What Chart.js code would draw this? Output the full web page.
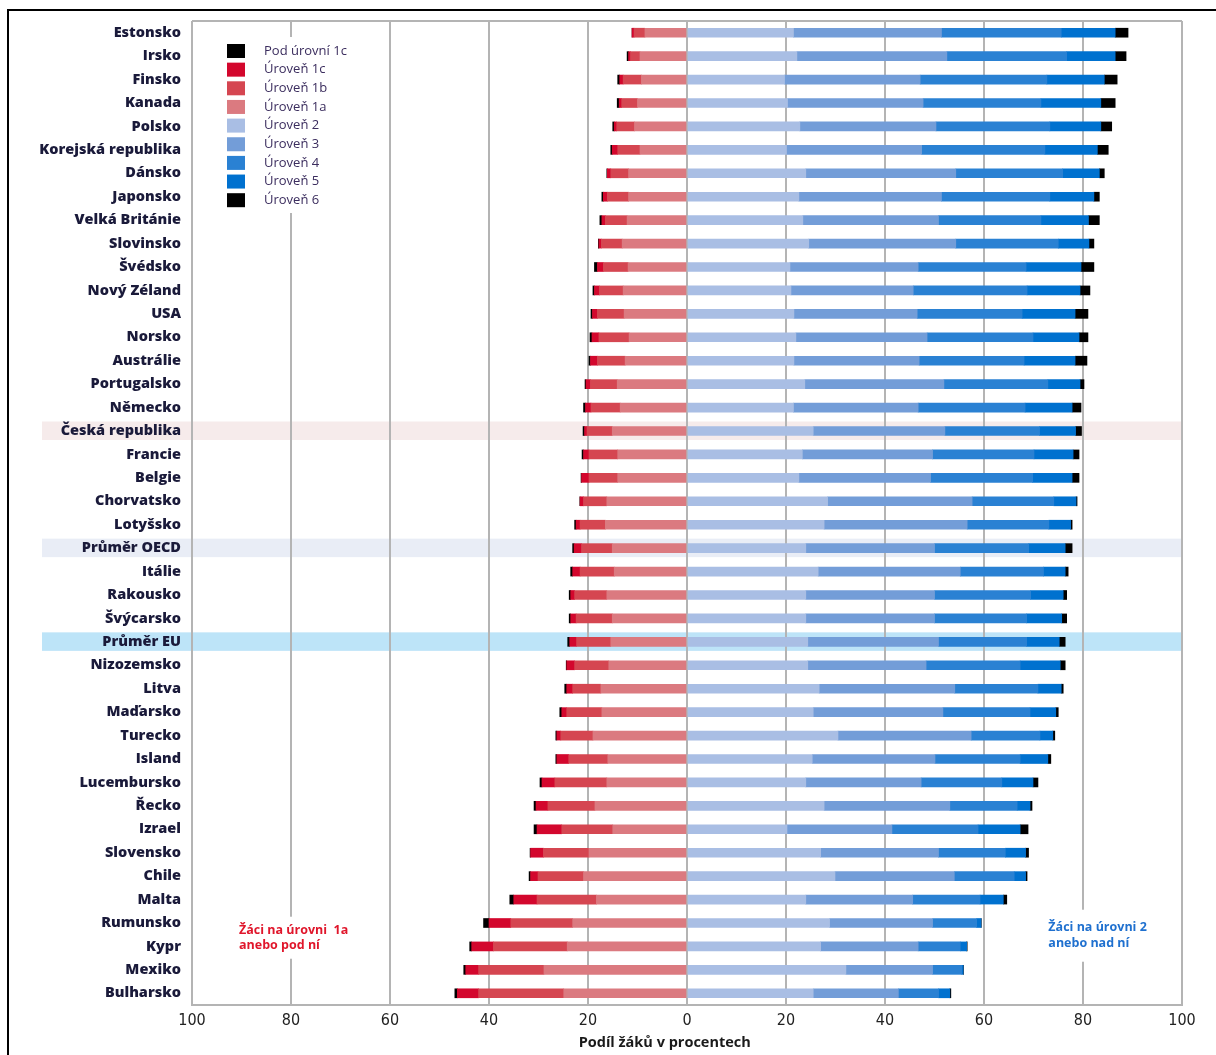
<!DOCTYPE html>
<html><head><meta charset="utf-8">
<script src="https://cdn.jsdelivr.net/npm/chart.js@4.4.1/dist/chart.umd.min.js"></script>
<style>
html,body{margin:0;padding:0;background:#fff;overflow:hidden;width:1216px;height:1055px;}
#wrap{position:absolute;left:0;top:0;width:1216px;height:1055px;}
#frame{position:absolute;left:7px;top:9px;width:1400px;height:1300px;border:2px solid #000;pointer-events:none;}
</style></head><body>
<div id="wrap"><canvas id="c" width="1216" height="1055"></canvas></div>
<div id="frame"></div>
<script>
const categories = ["Estonsko","Irsko","Finsko","Kanada","Polsko","Korejská republika","Dánsko","Japonsko","Velká Británie","Slovinsko","Švédsko","Nový Zéland","USA","Norsko","Austrálie","Portugalsko","Německo","Česká republika","Francie","Belgie","Chorvatsko","Lotyšsko","Průměr OECD","Itálie","Rakousko","Švýcarsko","Průměr EU","Nizozemsko","Litva","Maďarsko","Turecko","Island","Lucembursko","Řecko","Izrael","Slovensko","Chile","Malta","Rumunsko","Kypr","Mexiko","Bulharsko"];

// percentages of students (left side shown as negative)
const belowL1c = [0.0,0.3,0.4,0.4,0.3,0.3,0.1,0.3,0.4,0.1,0.6,0.3,0.3,0.4,0.3,0.2,0.4,0.3,0.3,0.1,0.05,0.3,0.3,0.4,0.3,0.3,0.4,0.1,0.4,0.4,0.2,0.2,0.4,0.4,0.6,0.1,0.3,0.8,1.1,0.4,0.4,0.5];
const level1c = [0.4,0.4,0.7,0.5,0.5,1.1,0.7,0.8,0.7,0.5,1.2,1.0,1.0,1.4,1.4,0.9,1.1,0.5,1.1,1.5,0.7,0.8,1.5,1.5,0.8,1.1,1.4,1.6,1.2,1.0,0.8,2.4,2.6,2.4,5.0,2.6,1.5,4.7,4.4,4.4,2.6,4.3];
const level1b = [2.2,1.9,3.7,3.2,3.6,4.5,3.6,4.3,4.4,4.2,5.0,4.8,5.4,6.1,5.6,5.4,5.9,5.1,5.8,5.8,4.7,5.1,6.2,6.9,6.5,7.3,6.9,6.9,5.7,7.1,6.5,7.9,10.5,9.5,10.3,9.2,9.2,12.0,12.5,14.9,13.2,17.2];
const level1a = [8.5,9.5,9.2,10.0,10.6,9.5,11.8,11.8,12.1,13.1,11.9,12.9,12.7,11.7,12.5,14.1,13.5,15.1,14.0,14.0,16.2,16.5,15.1,14.7,16.2,15.1,15.4,15.8,17.4,17.2,19.0,16.0,16.2,18.6,15.0,19.8,20.9,18.3,23.1,24.2,28.9,24.9];
const level2 = [21.5,22.2,19.7,20.3,22.8,20.1,24.0,22.6,23.4,24.6,20.8,21.0,21.6,22.0,21.6,23.8,21.5,25.5,23.3,22.6,28.4,27.7,24.0,26.5,24.0,24.0,24.4,24.4,26.7,25.5,30.5,25.3,24.0,27.7,20.2,27.0,29.9,24.0,28.8,27.0,32.1,25.5];
const level3 = [29.9,30.3,27.4,27.4,27.5,27.3,30.3,28.8,27.4,29.7,25.9,24.7,24.9,26.5,25.3,28.1,25.2,26.6,26.3,26.6,29.2,28.9,26.0,28.7,26.0,26.0,26.4,23.9,27.4,26.2,26.9,24.8,23.3,25.4,21.2,23.8,24.1,21.6,20.8,19.7,17.5,17.2];
const level4 = [24.2,24.2,25.6,23.8,23.0,24.9,21.6,21.9,20.7,20.7,21.8,23.0,21.2,21.4,21.2,21.0,21.6,19.1,20.5,20.6,16.5,16.5,19.0,16.8,19.4,18.6,17.8,19.0,16.8,17.6,13.9,17.2,16.3,13.6,17.4,13.5,12.1,13.6,8.9,8.5,5.9,8.1];
const level5 = [10.9,9.8,11.6,12.1,10.3,10.6,7.4,8.9,9.6,6.2,11.1,10.7,10.7,9.3,10.3,6.5,9.5,7.3,7.9,8.0,4.5,4.4,7.4,4.4,6.6,7.1,6.6,8.1,4.7,5.2,2.6,5.6,6.3,2.6,8.5,4.1,2.3,4.7,0.9,1.3,0.3,2.3];
const level6 = [2.6,2.2,2.6,2.9,2.2,2.2,1.0,1.1,2.2,1.0,2.6,2.0,2.6,1.8,2.4,0.8,1.8,1.2,1.2,1.4,0.2,0.3,1.4,0.6,0.7,1.0,1.2,1.0,0.4,0.5,0.4,0.6,1.0,0.4,1.6,0.6,0.3,0.7,0.05,0.1,0.05,0.2];

const legendLabels = ["Pod úrovní 1c","Úroveň 1c","Úroveň 1b","Úroveň 1a","Úroveň 2","Úroveň 3","Úroveň 4","Úroveň 5","Úroveň 6"];
const legendColors = ["#000000","#d3072d","#d54651","#db7a80","#a9bee4","#739dd8","#2a81d3","#0071cf","#000000"];
const highlightRows = {"Česká republika":"#f6ebeb","Průměr OECD":"#e9edf6","Průměr EU":"#bde4f8"};
const axisTitle = "Podíl žáků v procentech";
const leftNote = ["Žáci na úrovni  1a","anebo pod ní"];
const rightNote = ["Žáci na úrovni 2","anebo nad ní"];

const neg = a => a.map(v => -v);
const datasets = [
  {label:"Úroveň 1a", data:neg(level1a), backgroundColor:"#db7a80"},
  {label:"Úroveň 1b", data:neg(level1b), backgroundColor:"#d54651"},
  {label:"Úroveň 1c", data:neg(level1c), backgroundColor:"#d3072d"},
  {label:"Pod úrovní 1c", data:neg(belowL1c), backgroundColor:"#000000"},
  {label:"Úroveň 2", data:level2, backgroundColor:"#a9bee4"},
  {label:"Úroveň 3", data:level3, backgroundColor:"#739dd8"},
  {label:"Úroveň 4", data:level4, backgroundColor:"#2a81d3"},
  {label:"Úroveň 5", data:level5, backgroundColor:"#0071cf"},
  {label:"Úroveň 6", data:level6, backgroundColor:"#000000"}
].map(d => Object.assign(d, {barThickness:9, borderWidth:0}));

const decor = {
  id:'decor',
  beforeDraw(chart){
    const {ctx, chartArea, scales:{y}} = chart;
    ctx.save();
    categories.forEach((c,i)=>{
      if(highlightRows[c]){
        const py = y.getPixelForValue(i);
        ctx.fillStyle = highlightRows[c];
        ctx.fillRect(42, py-9.5, chartArea.right-42, 18.5);
      }
    });
    ctx.restore();
  },
  afterDraw(chart){
    const {ctx, chartArea, scales:{x,y}} = chart;
    ctx.save();
    ctx.strokeStyle = '#b4b4b4'; ctx.lineWidth = 2;
    ctx.beginPath(); ctx.moveTo(chartArea.left, chartArea.top); ctx.lineTo(chartArea.right, chartArea.top); ctx.stroke();
    // legend
    const lx = chartArea.left + 35, ly = chartArea.top + 30;
    ctx.fillStyle = '#fff';
    ctx.fillRect(lx-12, ly-14, 162, 176);
    ctx.font = "13px 'Open Sans', sans-serif";
    ctx.textBaseline = 'middle'; ctx.textAlign = 'left';
    legendLabels.forEach((l,i)=>{
      const cy = ly + i*18.65;
      ctx.fillStyle = legendColors[i];
      ctx.fillRect(lx, cy-7, 18, 14);
      ctx.fillStyle = '#3b2d5e';
      ctx.fillText(l, lx+37, cy);
    });
    // notes
    const yMid = (y.getPixelForValue(38)+y.getPixelForValue(39))/2;
    ctx.font = "bold 12.5px 'Open Sans', sans-serif";
    const lnx = x.getPixelForValue(-90.5);
    ctx.fillStyle = '#fff'; ctx.fillRect(lnx-3, yMid-18, 140, 42);
    ctx.fillStyle = '#e0162b';
    ctx.fillText(leftNote[0], lnx, yMid-4);
    ctx.fillText(leftNote[1], lnx, yMid+11);
    const rnx = x.getPixelForValue(73);
    ctx.fillStyle = '#fff'; ctx.fillRect(rnx-3, yMid-25, 128, 52);
    ctx.fillStyle = '#1f70cf';
    ctx.fillText(rightNote[0], rnx, yMid-7);
    ctx.fillText(rightNote[1], rnx, yMid+9);
    // axis title
    ctx.font = "bold 14.5px 'Open Sans', sans-serif";
    ctx.textAlign = 'center';
    ctx.fillStyle = '#1a1a1a';
    ctx.fillText(axisTitle, x.getPixelForValue(-4.5), chartArea.bottom + 38);
    ctx.restore();
  }
};

new Chart(document.getElementById('c'), {
  type:'bar',
  data:{labels:categories, datasets},
  options:{
    responsive:false, animation:false, indexAxis:'y',
    layout:{padding:{left:0,right:34,top:21,bottom:0}},
    plugins:{legend:{display:false}, tooltip:{enabled:false}},
    scales:{
      x:{type:'linear', min:-100, max:100, stacked:true,
        ticks:{stepSize:20, callback:v=>Math.abs(v), font:{family:"'Liberation Sans Narrow','DejaVu Sans Condensed',sans-serif", size:16}, color:'#222', padding:6, maxRotation:0},
        grid:{color:'#b4b4b4', lineWidth:2, drawTicks:false},
        border:{display:true, color:'#b4b4b4', width:2},
        afterFit:s=>{s.height=50;}
      },
      y:{type:'category', stacked:true,
        grid:{display:false, drawTicks:false}, border:{display:false},
        ticks:{font:{family:"'Open Sans', sans-serif", size:14.5, weight:'800'}, color:'#1a1a3a', padding:11, autoSkip:false},
        afterFit:s=>{s.width=192;}
      }
    }
  },
  plugins:[decor]
});
</script>
</body></html>
